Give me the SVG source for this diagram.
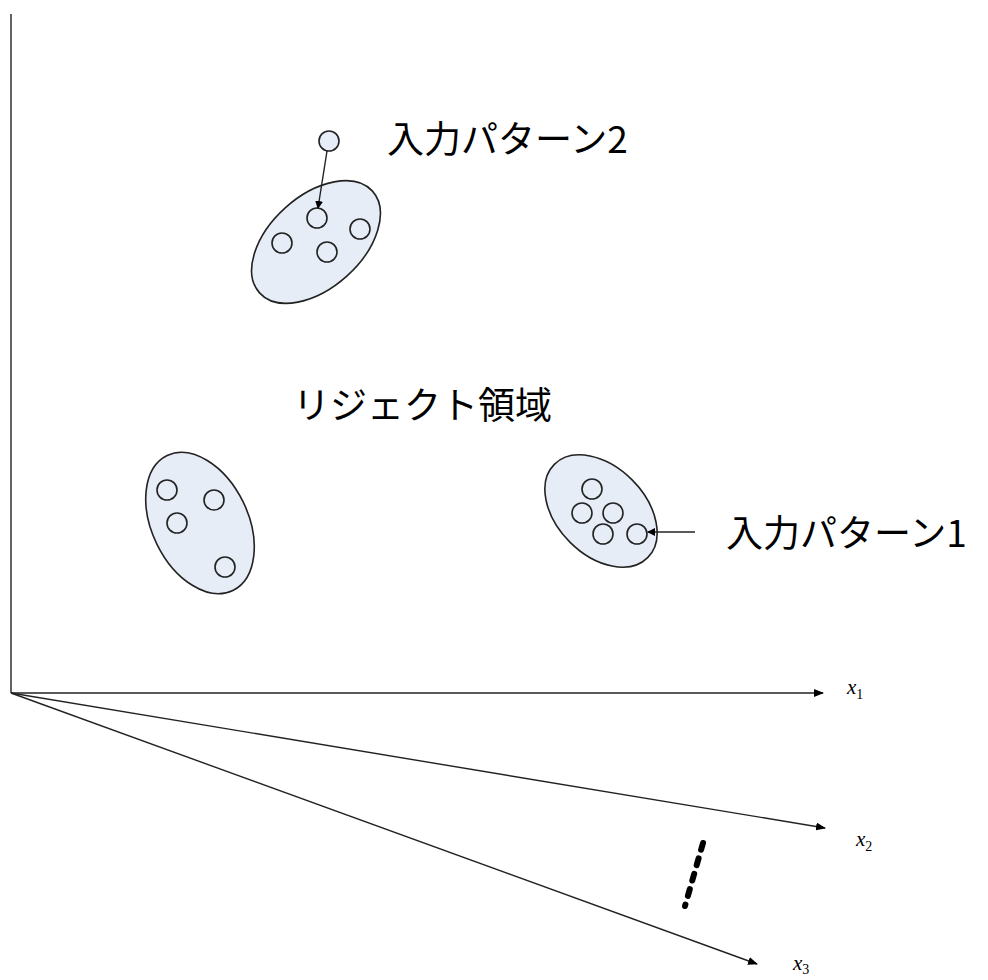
<svg xmlns="http://www.w3.org/2000/svg" width="988" height="980" viewBox="0 0 988 980">
<style>
.cl{fill:#e7edf7;stroke:#222;stroke-width:1.6}
.c{fill:#e7edf7;stroke:#222;stroke-width:1.6}
.ln{stroke:#222;stroke-width:1.4;fill:none}
.jp{font-family:"Noto Sans CJK JP","Noto Sans",sans-serif;font-size:37px;fill:#000}
.ax{font-family:"Liberation Serif",serif;font-style:italic;font-size:21px;fill:#000}
.sub{font-family:"Liberation Serif",serif;font-style:normal;font-size:14px;fill:#000}
</style>
<defs>
<marker id="ah" markerWidth="10" markerHeight="8" refX="9" refY="4" orient="auto" markerUnits="userSpaceOnUse">
<path d="M0,0 L10,4 L0,8 z" fill="#000"/>
</marker>
<marker id="ahs" markerWidth="8" markerHeight="8" refX="7" refY="4" orient="auto" markerUnits="userSpaceOnUse">
<path d="M0,0 L8,4 L0,8 z" fill="#000"/>
</marker>
</defs>
<rect width="988" height="980" fill="#fff"/>
<g id="cluster-top">
<ellipse class="cl" cx="316" cy="242" rx="76" ry="46" transform="rotate(-42 316 242)"/>
<circle class="c" cx="317" cy="218" r="10"/>
<circle class="c" cx="282" cy="243" r="10"/>
<circle class="c" cx="327" cy="252" r="10"/>
<circle class="c" cx="360" cy="229" r="10"/>
</g>
<g id="input-point-2">
<circle class="c" cx="329" cy="141" r="10"/>
</g>
<g id="cluster-left">
<ellipse class="cl" cx="200" cy="523" rx="48" ry="75" transform="rotate(-26 200 523)"/>
<circle class="c" cx="167" cy="490" r="10"/>
<circle class="c" cx="214" cy="500" r="10"/>
<circle class="c" cx="177" cy="523" r="10"/>
<circle class="c" cx="225" cy="567" r="10"/>
</g>
<g id="cluster-right">
<ellipse class="cl" cx="601" cy="511" rx="66" ry="44" transform="rotate(45 601 511)"/>
<circle class="c" cx="592" cy="489" r="10"/>
<circle class="c" cx="582" cy="513" r="10"/>
<circle class="c" cx="613" cy="513" r="10"/>
<circle class="c" cx="603" cy="534" r="10"/>
<circle class="c" cx="637" cy="534" r="10"/>
</g>
<g id="labels">
<text class="jp" x="387" y="153">入力パターン2</text>
<text class="jp" x="293" y="419">リジェクト領域</text>
<text class="jp" x="726" y="547">入力パターン1</text>
<text class="ax" x="847" y="694">x<tspan class="sub" dy="5">1</tspan></text>
<text class="ax" x="856" y="846">x<tspan class="sub" dy="5">2</tspan></text>
<text class="ax" x="793" y="970">x<tspan class="sub" dy="4">3</tspan></text>
</g>
<g id="connectors">
<line class="ln" x1="11" y1="14" x2="11" y2="693" stroke-width="2"/>
<line class="ln" x1="11" y1="693" x2="823" y2="693" marker-end="url(#ah)"/>
<line class="ln" x1="11" y1="693" x2="825" y2="828" marker-end="url(#ah)"/>
<line class="ln" x1="11" y1="693" x2="757" y2="964" marker-end="url(#ah)"/>
<line class="ln" x1="327" y1="151" x2="318" y2="208" marker-end="url(#ahs)"/>
<line class="ln" x1="695" y1="532" x2="648" y2="532" marker-end="url(#ahs)"/>
<line x1="703" y1="843" x2="685" y2="906" stroke="#000" stroke-width="6" stroke-dasharray="7,9" stroke-linecap="round"/>
</g>
</svg>
